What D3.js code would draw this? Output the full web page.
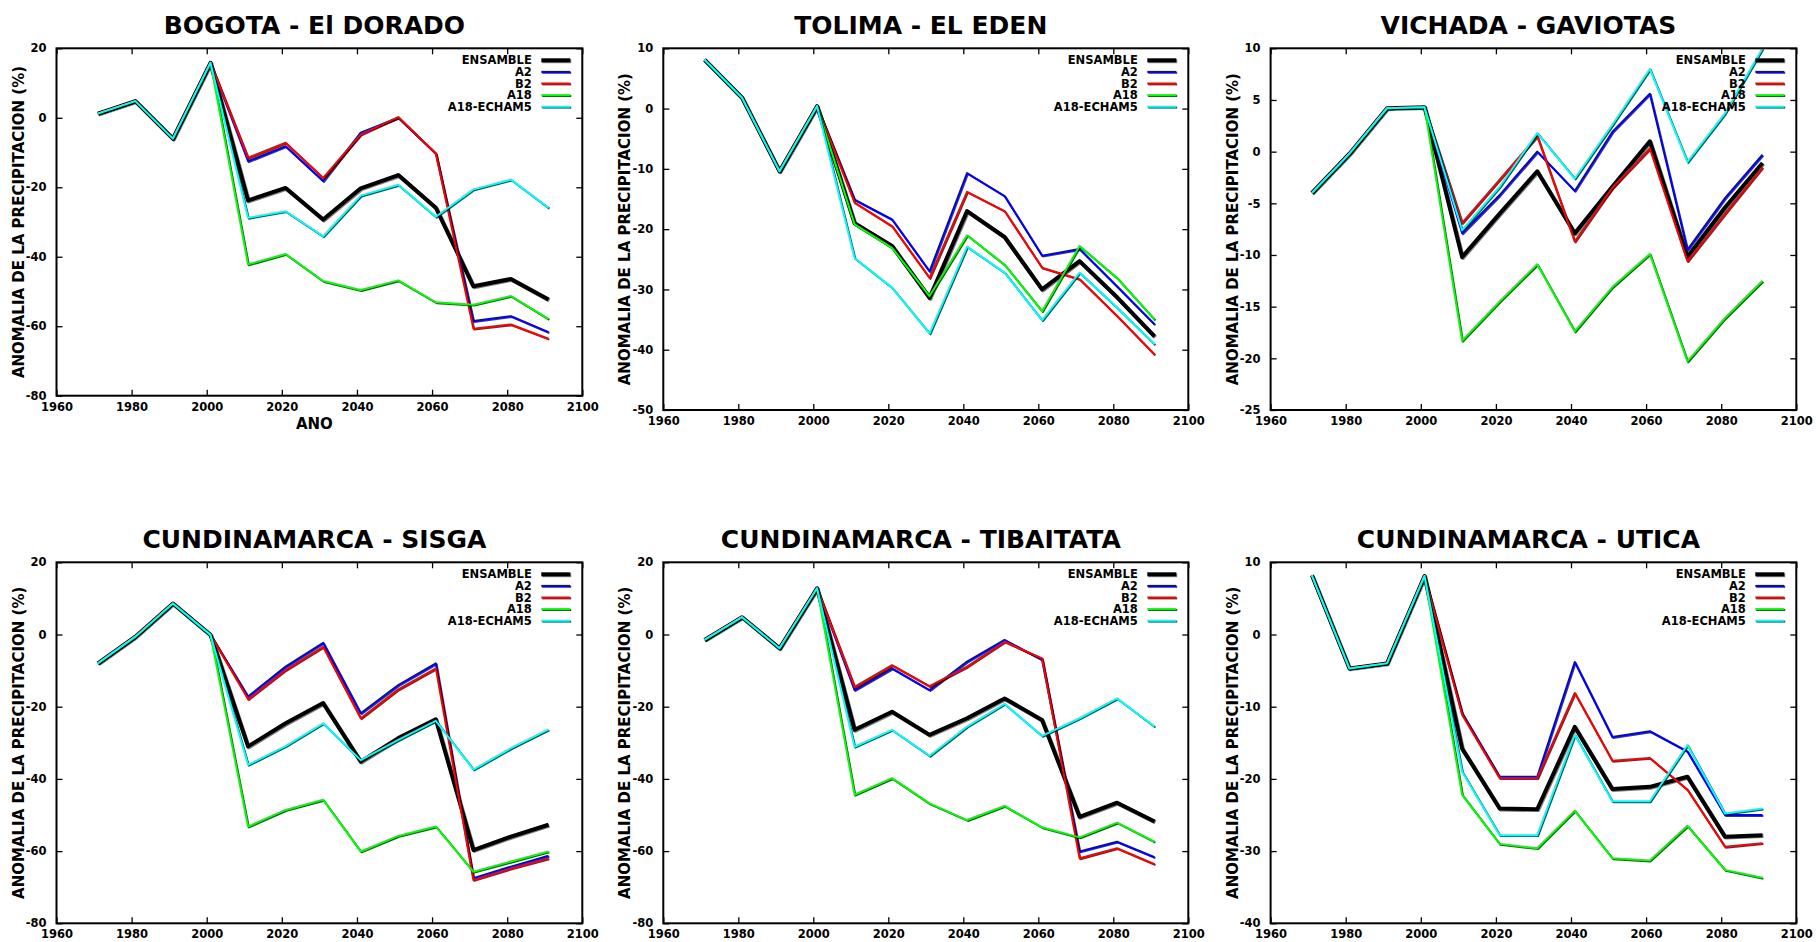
<!DOCTYPE html>
<html><head><meta charset="utf-8">
<script src="https://cdn.jsdelivr.net/npm/d3@7"></script>
<style>
body{margin:0;background:#fff}
svg{display:block}
text{font-family:"DejaVu Sans",sans-serif;font-weight:bold;fill:#000}
</style>
</head><body>
<svg id="chart" width="1816" height="942"></svg>
<script>
// ---------- DATA ----------
const years = [1971,1981,1991,2001,2011,2021,2031,2041,2051,2061,2071,2081,2091];
const seriesNames = ["ENSAMBLE","A2","B2","A18","A18-ECHAM5"];
const xTickValues = [1960,1980,2000,2020,2040,2060,2080,2100];

const BOGOTA_ENSAMBLE = [1.2,4.8,-6,15.8,-23.8,-20.2,-29.3,-20.3,-16.5,-25.9,-48.5,-46.4,-52.3];
const BOGOTA_A2       = [1.2,4.8,-6,15.8,-12.5,-8.2,-18.2,-4.3,0,-10.3,-58.5,-57.1,-61.7];
const BOGOTA_B2       = [1.2,4.8,-6,15.8,-11.5,-7.2,-17.3,-4.8,0.2,-10.3,-60.7,-59.5,-63.6];
const BOGOTA_A18      = [1.2,4.8,-6,15.8,-42.2,-39.2,-47,-49.6,-46.8,-53.1,-53.8,-51.3,-57.9];
const BOGOTA_ECHAM5   = [1.2,4.8,-6,15.8,-28.8,-26.9,-34.1,-22.4,-19.3,-28.5,-20.6,-17.8,-25.9];

const TOLIMA_ENSAMBLE = [8.1,1.8,-10.4,0.4,-19,-22.8,-31.4,-17,-21.3,-30,-25.3,-31.3,-37.8];
const TOLIMA_A2       = [8.1,1.8,-10.4,0.4,-15.1,-18.4,-27,-10.7,-14.5,-24.4,-23.3,-29.5,-35.8];
const TOLIMA_B2       = [8.1,1.8,-10.4,0.4,-15.6,-19.5,-28.1,-13.8,-17,-26.4,-28.3,-34.4,-40.8];
const TOLIMA_A18      = [8.1,1.8,-10.4,0.4,-19.2,-23.1,-31.1,-21,-25.9,-33.6,-22.8,-28.1,-35];
const TOLIMA_ECHAM5   = [8.1,1.8,-10.4,0.4,-24.8,-29.7,-37.3,-22.9,-27.2,-35.1,-27.2,-33,-39.1];

const VICHADA_ENSAMBLE = [-4,-0.2,4.2,4.3,-10.2,-6,-1.9,-7.9,-3.4,1,-10.2,-5.4,-1.1];
const VICHADA_A2       = [-4,-0.2,4.2,4.3,-7.9,-4.2,0,-3.8,1.9,5.6,-9.5,-4.5,-0.3];
const VICHADA_B2       = [-4,-0.2,4.2,4.3,-6.9,-2.7,1.5,-8.7,-3.5,0.3,-10.6,-6,-1.5];
const VICHADA_A18      = [-4,-0.2,4.2,4.3,-18.3,-14.5,-10.9,-17.4,-13.1,-9.9,-20.3,-16.1,-12.5];
const VICHADA_ECHAM5   = [-4,-0.2,4.2,4.3,-7.6,-3.4,1.8,-2.6,2.6,8,-1,3.7,10];

const SISGA_ENSAMBLE = [-8,-0.6,8.6,-0.1,-31,-24.6,-19,-35.2,-28.7,-23.5,-59.7,-56,-52.7];
const SISGA_A2       = [-8,-0.6,8.6,-0.1,-17.2,-8.9,-2.3,-21.8,-14,-8,-67.5,-64.3,-61.3];
const SISGA_B2       = [-8,-0.6,8.6,-0.1,-17.9,-9.8,-3.4,-23.2,-15.2,-9.4,-68,-64.8,-62];
const SISGA_A18      = [-8,-0.6,8.6,-0.1,-53.2,-48.6,-45.8,-60.1,-55.8,-53.2,-65.7,-62.9,-60.1];
const SISGA_ECHAM5   = [-8,-0.6,8.6,-0.1,-36.1,-30.9,-24.6,-34.8,-29.2,-23.9,-37.4,-31.5,-26.3];

const TIBAITATA_ENSAMBLE = [-1.5,4.8,-3.8,12.8,-26.4,-21.4,-27.8,-23.2,-17.7,-23.7,-50.5,-46.6,-51.8];
const TIBAITATA_A2       = [-1.5,4.8,-3.8,12.8,-15.4,-9.4,-15.4,-7.5,-1.5,-7,-60.1,-57.4,-61.7];
const TIBAITATA_B2       = [-1.5,4.8,-3.8,12.8,-14.5,-8.5,-14.3,-8.9,-2,-6.6,-62,-59.2,-63.6];
const TIBAITATA_A18      = [-1.5,4.8,-3.8,12.8,-44.4,-39.8,-46.8,-51.4,-47.5,-53.4,-56.2,-52.1,-57.4];
const TIBAITATA_ECHAM5   = [-1.5,4.8,-3.8,12.8,-31.1,-26.4,-33.6,-25.5,-19.2,-28.1,-23.2,-17.7,-25.5];

const UTICA_ENSAMBLE = [8.2,-4.7,-4,8.1,-15.8,-24.1,-24.2,-12.8,-21.4,-21.1,-19.7,-28,-27.8];
const UTICA_A2       = [8.2,-4.7,-4,8.1,-10.9,-19.7,-19.7,-3.8,-14.2,-13.4,-16.2,-25,-25];
const UTICA_B2       = [8.2,-4.7,-4,8.1,-11.1,-19.9,-19.9,-8.1,-17.5,-17.1,-21.5,-29.4,-28.9];
const UTICA_A18      = [8.2,-4.7,-4,8.1,-22.2,-29,-29.6,-24.4,-31,-31.3,-26.5,-32.6,-33.7];
const UTICA_ECHAM5   = [8.2,-4.7,-4,8.1,-19,-27.8,-27.8,-13.9,-23.1,-23.1,-15.3,-24.8,-24.1];

const yTicksA = [-80,-60,-40,-20,0,20];
const yTicksB = [-50,-40,-30,-20,-10,0,10];
const yTicksC = [-25,-20,-15,-10,-5,0,5,10];
const yTicksD = [-40,-30,-20,-10,0,10];

// ---------- STYLE / LAYOUT ----------
const seriesColors = ["#000000","#0000ff","#ff0000","#00ff00","#00ffff"];
const seriesWidths = [4,2,2,2,2];

const panels = [
  {title:"BOGOTA - El DORADO", series:[BOGOTA_ENSAMBLE,BOGOTA_A2,BOGOTA_B2,BOGOTA_A18,BOGOTA_ECHAM5], yTicks:yTicksA, box:[56.5,48.3,582.3,395.7], xlabel:"ANO"},
  {title:"TOLIMA - EL EDEN", series:[TOLIMA_ENSAMBLE,TOLIMA_A2,TOLIMA_B2,TOLIMA_A18,TOLIMA_ECHAM5], yTicks:yTicksB, box:[663.3,48.3,1188.3,410]},
  {title:"VICHADA - GAVIOTAS", series:[VICHADA_ENSAMBLE,VICHADA_A2,VICHADA_B2,VICHADA_A18,VICHADA_ECHAM5], yTicks:yTicksC, box:[1270.6,48.3,1796.3,410]},
  {title:"CUNDINAMARCA - SISGA", series:[SISGA_ENSAMBLE,SISGA_A2,SISGA_B2,SISGA_A18,SISGA_ECHAM5], yTicks:yTicksA, box:[56.5,562.3,582.3,923.3]},
  {title:"CUNDINAMARCA - TIBAITATA", series:[TIBAITATA_ENSAMBLE,TIBAITATA_A2,TIBAITATA_B2,TIBAITATA_A18,TIBAITATA_ECHAM5], yTicks:yTicksA, box:[663.3,562.3,1188.3,923.3]},
  {title:"CUNDINAMARCA - UTICA", series:[UTICA_ENSAMBLE,UTICA_A2,UTICA_B2,UTICA_A18,UTICA_ECHAM5], yTicks:yTicksD, box:[1270.6,562.3,1796.3,923.3]}
];

const svg = d3.select("#chart");
const fmt = d => String(d);

panels.forEach((p, pi) => {
  const [L,T,R,B] = p.box;
  const x = d3.scaleLinear().domain([1960,2100]).range([L,R]);
  const y = d3.scaleLinear().domain(d3.extent(p.yTicks)).range([B,T]);
  const g = svg.append("g");

  const clipId = "clip"+pi;
  g.append("clipPath").attr("id",clipId).append("rect")
    .attr("x",L).attr("y",T-1).attr("width",R-L).attr("height",B-T+2);

  // y label (drawn first so tick labels sit on top)
  g.append("text").attr("transform",`translate(${L-33},${(T+B)/2}) rotate(-90)`)
    .attr("text-anchor","middle").style("font-size","15px")
    .text("ANOMALIA DE LA PRECIPITACION (%)");

  const line = d3.line().x((d,i)=>x(years[i])).y(d=>y(d));
  const lg = g.append("g").attr("clip-path",`url(#${clipId})`);
  p.series.forEach((vals, si) => {
    lg.append("path").datum(vals).attr("d",line)
      .attr("fill","none").attr("stroke","#000").attr("stroke-opacity",si===0?0.5:0.75)
      .attr("stroke-width",seriesWidths[si]).attr("stroke-linejoin","round")
      .attr("transform","translate(0.9,0.9)");
    lg.append("path").datum(vals).attr("d",line)
      .attr("fill","none").attr("stroke",seriesColors[si])
      .attr("stroke-width",seriesWidths[si]).attr("stroke-linejoin","round");
  });

  // axes
  const styleAxis = a => {
    a.select(".domain").remove();
    a.selectAll(".tick line").attr("stroke","#000").attr("stroke-width",1.3);
    a.selectAll(".tick text").style("font-family","'DejaVu Sans',sans-serif")
      .style("font-weight","bold").style("font-size","11.5px").attr("fill","#000");
  };
  g.append("g").attr("transform",`translate(0,${B})`)
    .call(d3.axisBottom(x).tickValues(xTickValues).tickSize(-6).tickPadding(7).tickFormat(fmt))
    .call(styleAxis);
  g.append("g").attr("transform",`translate(0,${T})`)
    .call(d3.axisTop(x).tickValues(xTickValues).tickSize(-6).tickFormat(""))
    .call(styleAxis);
  g.append("g").attr("transform",`translate(${L},0)`)
    .call(d3.axisLeft(y).tickValues(p.yTicks).tickSize(-6).tickPadding(10).tickFormat(fmt))
    .call(styleAxis);
  g.append("g").attr("transform",`translate(${R},0)`)
    .call(d3.axisRight(y).tickValues(p.yTicks).tickSize(-6).tickFormat(""))
    .call(styleAxis);

  g.append("rect").attr("x",L).attr("y",T).attr("width",R-L).attr("height",B-T)
    .attr("fill","none").attr("stroke","#000").attr("stroke-width",2);

  // title
  g.append("text").attr("x",(L+R)/2-5).attr("y",T-14).attr("text-anchor","middle")
    .style("font-size","25px").text(p.title);

  if (p.xlabel) {
    g.append("text").attr("x",(L+R)/2-5).attr("y",B+33).attr("text-anchor","middle")
      .style("font-size","15px").text(p.xlabel);
  }

  // legend
  const lgd = g.append("g");
  seriesNames.forEach((name, si) => {
    const yy = T + 12 + si*11.6;
    lgd.append("text").attr("x",R-50.5).attr("y",yy).attr("dy","0.36em")
      .attr("text-anchor","end").style("font-size","11.5px").text(name);
    lgd.append("line").attr("x1",R-41).attr("x2",R-12).attr("y1",yy+0.9).attr("y2",yy+0.9)
      .attr("transform","translate(0.9,0)")
      .attr("stroke","#000").attr("stroke-opacity",si===0?0.5:0.75).attr("stroke-width",seriesWidths[si]);
    lgd.append("line").attr("x1",R-41).attr("x2",R-12).attr("y1",yy).attr("y2",yy)
      .attr("stroke",seriesColors[si]).attr("stroke-width",seriesWidths[si]);
  });
});
</script>
</body></html>
